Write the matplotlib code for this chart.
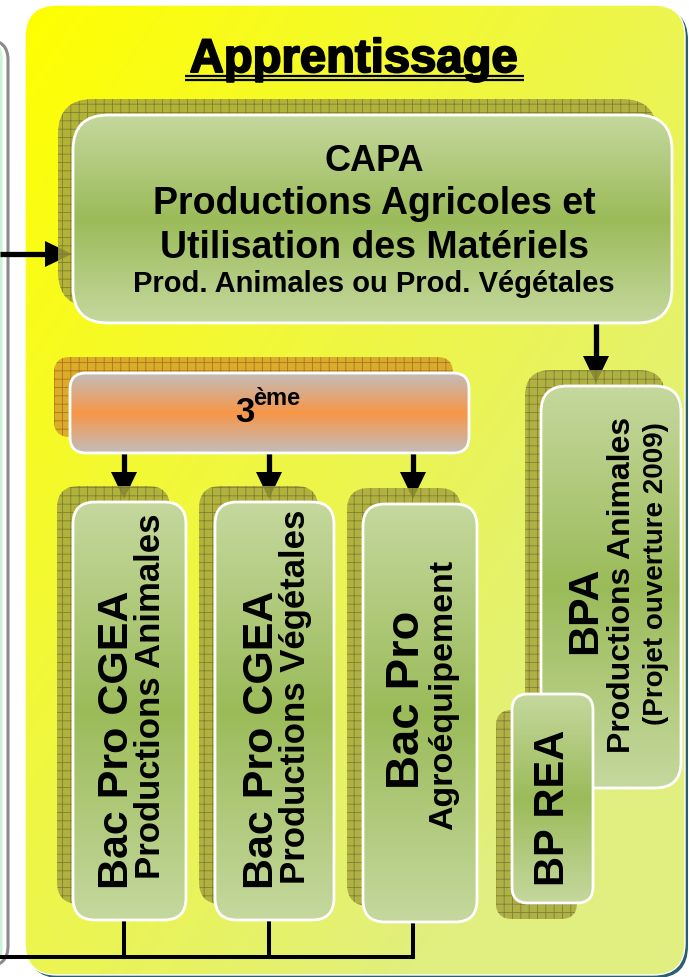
import numpy as np
import matplotlib
matplotlib.use("Agg")
import matplotlib.pyplot as plt
from matplotlib.patches import FancyBboxPatch, Polygon
import matplotlib.patheffects as pe
from matplotlib.colors import to_rgb

plt.rcParams["font.family"] = ["Liberation Sans", "DejaVu Sans"]
plt.rcParams["hatch.linewidth"] = 0.6

W, H = 689, 977

# ---------------- text content ----------------
title = "Apprentissage"
capa_lines = ["CAPA", "Productions Agricoles et", "Utilisation des Matériels",
              "Prod. Animales ou Prod. Végétales"]
third_main = "3"
third_sup = "ème"
bac_main = ["Bac Pro CGEA", "Bac Pro CGEA", "Bac Pro"]
bac_sub = ["Productions Animales", "Productions Végétales", "Agroéquipement"]
bpa_lines = ["BPA", "Productions Animales", "(Projet ouverture 2009)"]
bprea_label = "BP REA"

# ---------------- layout (pixels) ----------------
panel = (25, 5, 685, 975)
capa_box = (73, 115, 672, 323)
third_box = (70, 373, 469, 453)
bac_boxes = [(73, 502, 186, 920), (215, 502, 334, 920), (363, 504, 477, 922)]
bac_link_x = [124, 269, 413]
bpa_box = (541, 386, 681, 788)
bprea_box = (512, 694, 593, 903)

GREEN_EDGE = np.array(to_rgb("#c5d89e"))
GREEN_MID = np.array(to_rgb("#9bbb59"))
GRAY_EDGE = np.array(to_rgb("#c4bcb8"))
ORANGE_MID = np.array(to_rgb("#f79646"))

fig = plt.figure(figsize=(W / 100, H / 100), dpi=100)
ax = fig.add_axes([0, 0, 1, 1])
ax.set_xlim(0, W)
ax.set_ylim(H, 0)
ax.axis("off")


def rbox(b, r, dx=0, dy=0, **kw):
    x0, y0, x1, y1 = b
    return FancyBboxPatch((x0 + dx, y0 + dy), x1 - x0, y1 - y0,
                          boxstyle=f"round,pad=0,rounding_size={r}", **kw)


def vgrad(c_edge, c_mid, power=1.0, n=256):
    t = np.linspace(0, 1, n)
    f = (1 - np.abs(2 * t - 1)) ** power
    col = c_edge + (c_mid - c_edge) * f[:, None]
    return np.repeat(col[:, None, :], 2, axis=1)


def filled_box(b, r, img, z, edge="white", lw=2.0):
    x0, y0, x1, y1 = b
    p = rbox(b, r, facecolor="none", edgecolor=edge, lw=lw, zorder=z + 0.1)
    ax.add_patch(p)
    im = ax.imshow(img, extent=(x0, x1, y1, y0), aspect="auto", zorder=z,
                   interpolation="bilinear")
    im.set_clip_path(p)
    return p


def shadow(b, r, dx, dy, face, hatchc, z, alpha=0.85):
    p = rbox(b, r, dx, dy, facecolor=face, edgecolor=hatchc, lw=0,
             hatch="++", alpha=alpha, zorder=z)
    ax.add_patch(p)


def arrow(x0, y0, x1, y1, z=2, hl=27, hw=13, lw=3.8):
    v = np.array([x1 - x0, y1 - y0], float)
    L = np.hypot(*v)
    u = v / L
    n = np.array([-u[1], u[0]])
    base = np.array([x1, y1]) - u * hl
    ax.plot([x0, base[0]], [y0, base[1]], color="black", lw=lw,
            solid_capstyle="butt", zorder=z)
    ax.add_patch(Polygon([base + n * hw, [x1, y1], base - n * hw],
                         closed=True, facecolor="black", edgecolor="none",
                         zorder=z))


# ---------------- left partial panel ----------------
ax.add_patch(rbox((-60, 40, 8, 966), 20, facecolor="white",
                  edgecolor="#8a8a8a", lw=2.2, zorder=0.5))
ax.add_patch(rbox((-60, 40, 2.5, 966), 18, facecolor="#c9f3d5",
                  edgecolor="none", zorder=0.6))

# ---------------- main yellow panel ----------------
ax.add_patch(rbox(panel, 32, 3, 3, facecolor="#2a5f6e", edgecolor="none",
                  zorder=0.8))
gx = np.linspace(0, 1, 200)
gy = np.linspace(0, 1, 280)
GX, GY = np.meshgrid(gx, gy)
s = np.clip(0.62 * GX + 0.62 * GY, 0, 1)[:, :, None]
c_a = np.array(to_rgb("#ffff00"))
c_b = np.array(to_rgb("#e0ef80"))
pan_img = c_a + (c_b - c_a) * s
filled_box(panel, 32, pan_img, 1, edge="white", lw=1.0)

# ---------------- title ----------------
ax.text(354, 72, title, ha="center", va="baseline", fontsize=34,
        fontweight="bold", color="black", zorder=6,
        path_effects=[pe.withStroke(linewidth=1.4, foreground="black")])
for yy in (75.5, 79.5):
    ax.plot([185, 524], [yy, yy], color="black", lw=1.6,
            solid_capstyle="butt", zorder=6)

# ---------------- arrows ----------------
arrow(0, 254, 72, 254)
arrow(596, 323, 596, 383)
for cx in bac_link_x:
    arrow(cx, 453, cx, 499)

# bottom connectors
for b, cx in zip(bac_boxes, bac_link_x):
    ax.plot([cx, cx], [b[3], 957], color="black", lw=2.9, zorder=2,
            solid_capstyle="projecting")
ax.plot([0, bac_link_x[-1]], [957, 957],
        color="black", lw=2.9, zorder=2, solid_capstyle="projecting")

# ---------------- CAPA ----------------
OLIVE = "#a6a63c"
OLIVE_H = "#767634"
shadow(capa_box, 35, -15, -16, OLIVE, OLIVE_H, 3)
filled_box(capa_box, 35, vgrad(GREEN_EDGE, GREEN_MID, 1.0), 4)
capa_y = [171, 214, 258, 292]
capa_fs = [26, 27, 27, 21]
cx = 374
for t, yy, fs in zip(capa_lines, capa_y, capa_fs):
    ax.text(cx, yy, t, ha="center", va="baseline", fontsize=fs,
            fontweight="bold", color="black", zorder=6)

# ---------------- 3eme ----------------
shadow(third_box, 16, -16, -16, "#d4a028", "#aa6420", 3)
filled_box(third_box, 16, vgrad(GRAY_EDGE, ORANGE_MID, 1.1), 4)
ax.text(235, 422, third_main, ha="left", va="baseline", fontsize=25,
        fontweight="bold", color="black", zorder=6)
ax.text(253, 405, third_sup, ha="left", va="baseline", fontsize=17,
        fontweight="bold", color="black", zorder=6)

# ---------------- Bac Pro boxes ----------------
main_pos = [(117, 740), (262, 740), (407, 700)]
sub_pos = [(151, 696), (296, 697), (444, 695)]
main_fs = [31, 31, 34]
sub_fs = [25, 25, 24.5]
for b, m, sbt, mp, sp, mf, sf in zip(bac_boxes, bac_main, bac_sub, main_pos,
                                      sub_pos, main_fs, sub_fs):
    shadow(b, 22, -16, -16, OLIVE, OLIVE_H, 3)
    filled_box(b, 22, vgrad(GREEN_EDGE, GREEN_MID, 1.0), 4)
    ax.text(mp[0], mp[1], m, rotation=90, ha="center", va="center",
            fontsize=mf, fontweight="bold", color="black", zorder=6)
    ax.text(sp[0], sp[1], sbt, rotation=90, ha="center", va="center",
            fontsize=sf, fontweight="bold", color="black", zorder=6)

# ---------------- BPA ----------------
shadow(bpa_box, 26, -16, -16, OLIVE, OLIVE_H, 3)
filled_box(bpa_box, 26, vgrad(GREEN_EDGE, GREEN_MID, 1.0), 4)
bpa_pos = [(585, 610), (622, 585), (656, 574)]
bpa_fs = [31, 23, 20]
for t, p, fs in zip(bpa_lines, bpa_pos, bpa_fs):
    ax.text(p[0], p[1], t, rotation=90, ha="center", va="center",
            fontsize=fs, fontweight="bold", color="black", zorder=6)

# ---------------- BP REA ----------------
shadow(bprea_box, 16, -16, 16, OLIVE, OLIVE_H, 4.3)
filled_box(bprea_box, 16, vgrad(GREEN_EDGE, GREEN_MID, 1.0), 4.5)
ax.text(553, 808, bprea_label, rotation=90, ha="center", va="center",
        fontsize=30, fontweight="bold", color="black", zorder=6)

fig.savefig("out.png", dpi=100, facecolor="white")
